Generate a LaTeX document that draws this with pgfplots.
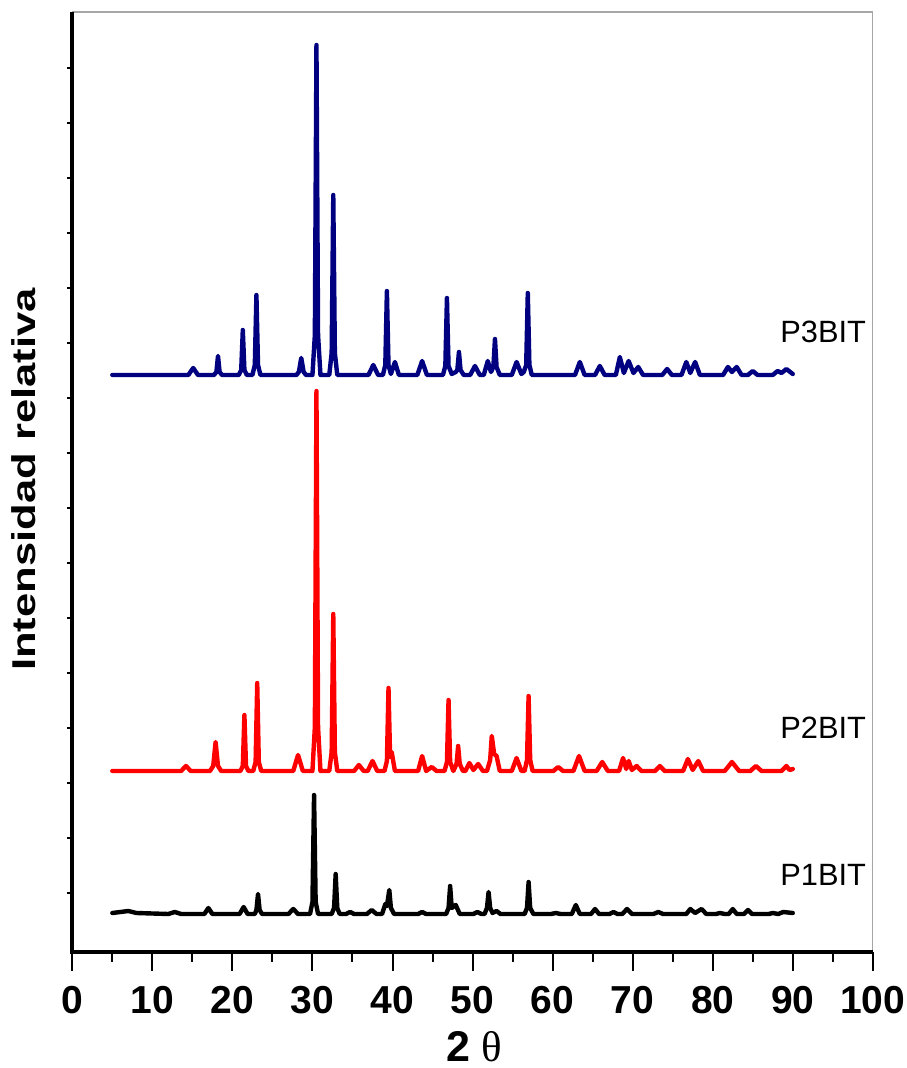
\documentclass[border=0pt]{standalone}
\usepackage{fontspec}
\setmainfont{Liberation Sans}
\newfontfamily\thetafont{Liberation Serif}
\usepackage{graphicx}
\usepackage{pgfplots}
\pgfplotsset{compat=1.18}
\definecolor{navy}{RGB}{0,0,128}
\definecolor{xred}{RGB}{255,0,0}

\begin{document}
\begin{tikzpicture}
\useasboundingbox (-36.15pt,-58pt) rectangle (416.85pt,476pt);
\begin{axis}[
  at={(0,0)}, anchor=south west,
  scale only axis, width=400.25pt, height=470pt,
  xmin=0, xmax=100, ymin=0, ymax=940,
  xtick={0,10,...,100}, minor xtick={5,15,...,95},
  ytick=\empty,
  tick pos=left, tick align=outside,
  major tick length=9.5pt, minor tick length=5pt,
  every tick/.style={black, line width=1pt},
  axis line style={draw=gray!70, line width=0.6pt},
  xticklabel style={font=\fontsize{19.5}{20}\selectfont\bfseries,
    inner sep=0pt, anchor=north, yshift=-7.5pt},
  /pgf/number format/assume math mode=true,
  every axis plot/.append style={line width=2.2pt, line join=round, line cap=round},
]
% P1BIT
\addplot[black] coordinates {
(5,39) (6,40) (7,41) (8,39) (12,38) (12.8,40) (13.6,38)
(16.5,38) (17.0,44) (17.5,38)
(20.9,38) (21.4,45) (21.9,38)
(22.8,38) (23.0,42) (23.2,58) (23.4,42) (23.7,38)
(27.0,38) (27.6,43) (28.2,38)
(29.7,38) (30.0,50) (30.2,157) (30.4,50) (30.7,38)
(32.4,38) (32.7,44) (32.9,78) (33.1,44) (33.4,38)
(34.2,38) (34.7,40) (35.2,38)
(36.8,38) (37.4,42) (38.0,38)
(38.7,38) (39.1,48) (39.3,46) (39.6,62) (39.8,44) (40.2,38)
(43.2,38) (43.7,40) (44.2,38)
(46.7,38) (47.0,44) (47.2,66) (47.4,44) (47.9,47) (48.4,38)
(50.1,38) (50.6,40) (51.1,38)
(51.5,38) (51.8,44) (52.0,60) (52.2,44) (52.5,39) (53.0,41) (53.5,38)
(56.5,38) (56.8,44) (57.0,70) (57.2,44) (57.6,38)
(59.8,38) (60.4,39) (61.0,38)
(62.4,38) (62.9,47) (63.4,38)
(64.8,38) (65.3,43) (65.8,38)
(67.1,38) (67.6,40) (68.1,38)
(68.7,38) (69.3,43) (69.9,38)
(72.6,38) (73.2,40) (73.8,38)
(76.7,38) (77.2,43) (77.8,39) (78.6,43) (79.2,38)
(80.4,38) (80.9,39) (81.5,38)
(82.0,38) (82.5,43) (83.0,38)
(83.9,38) (84.4,42) (84.9,38)
(87.0,38) (87.5,39) (88.2,38) (88.8,40) (90,39)
};
% P2BIT
\addplot[xred] coordinates {
(5,181) (13.6,181) (14.2,186) (14.8,181)
(17.2,181) (17.6,186) (17.9,210) (18.2,186) (18.6,181)
(21.0,181) (21.3,186) (21.5,237) (21.7,186) (22.0,181)
(22.6,181) (22.9,190) (23.1,269) (23.3,190) (23.6,181)
(27.6,181) (28.2,197) (28.8,181)
(30.0,181) (30.3,225) (30.5,561) (30.7,225) (31.0,181)
(32.1,181) (32.4,200) (32.6,338) (32.8,200) (33.1,181)
(35.2,181) (35.8,187) (36.4,181)
(36.9,181) (37.5,191) (38.1,181)
(39.0,181) (39.3,191) (39.5,264) (39.7,195) (39.9,200) (40.3,181)
(43.2,181) (43.7,196) (44.2,181) (44.9,185) (45.5,181)
(46.5,181) (46.8,190) (47.0,252) (47.2,190) (47.6,181) (48.0,188) (48.2,206) (48.4,188) (48.8,181)
(49.1,181) (49.6,189) (50.1,182) (50.7,188) (51.3,181)
(51.8,181) (52.2,192) (52.4,216) (52.7,198) (53.0,196) (53.4,181)
(54.9,181) (55.5,194) (56.1,181) (56.5,181) (56.8,192) (57.0,256) (57.2,192) (57.5,181)
(60.1,181) (60.7,185) (61.3,181)
(62.6,181) (63.3,196) (64.0,181)
(65.5,181) (66.2,190) (66.9,181)
(68.3,181) (68.8,194) (69.2,183) (69.5,191) (69.9,182) (70.5,186) (71.1,181)
(72.8,181) (73.4,186) (74.0,181)
(76.3,181) (76.9,193) (77.5,182) (78.2,191) (78.8,181)
(81.5,181) (82.4,190) (83.3,181)
(84.7,181) (85.4,186) (86.1,181)
(88.6,181) (89.2,186) (89.6,182) (90,183)
};
% P3BIT
\addplot[navy] coordinates {
(5,577) (14.5,577) (15.1,584) (15.7,577)
(17.7,577) (18.0,580) (18.2,596) (18.4,580) (18.7,577)
(20.8,577) (21.1,582) (21.3,622) (21.5,582) (21.8,577)
(22.5,577) (22.8,587) (23.0,657) (23.2,587) (23.5,577)
(28.0,577) (28.3,580) (28.6,594) (28.9,580) (29.2,577)
(30.0,577) (30.3,617) (30.5,907) (30.7,617) (31.0,577)
(32.1,577) (32.4,599) (32.6,757) (32.8,599) (33.1,577)
(37.0,577) (37.6,587) (38.2,577)
(38.8,577) (39.1,587) (39.3,661) (39.5,587) (39.8,578) (40.3,590) (40.8,577)
(43.1,577) (43.7,591) (44.3,577)
(46.3,577) (46.6,586) (46.8,654) (47.0,586) (47.4,578) (47.9,580) (48.1,582) (48.3,600) (48.5,582) (48.9,577)
(49.7,577) (50.3,586) (50.9,577)
(51.4,577) (51.9,591) (52.3,580) (52.6,585) (52.8,613) (53.0,585) (53.4,577)
(54.9,577) (55.5,590) (56.1,578) (56.4,580) (56.7,587) (56.9,659) (57.1,587) (57.4,577)
(62.8,577) (63.4,590) (64.0,577)
(65.3,577) (65.9,586) (66.5,577)
(67.9,577) (68.4,595) (68.9,579) (69.5,591) (70.1,579) (70.7,585) (71.3,577)
(73.7,577) (74.3,583) (74.9,577)
(76.1,577) (76.7,590) (77.2,579) (77.8,590) (78.4,577)
(81.3,577) (81.9,585) (82.4,580) (83.0,585) (83.6,577)
(84.4,577) (85.0,581) (85.6,577)
(87.5,577) (88.1,581) (88.6,579) (89.2,583) (90,578)
};
\end{axis}
% heavy left and bottom spines
\draw[line width=2pt] (0,470pt) -- (0,0) -- (400.25pt,0);
\foreach \k in {0,...,15}
  \draw[line width=0.8pt] (0,{(59+55*\k)*0.5pt}) -- ++(-2.5pt,0);
\node[rotate=90, anchor=base, font=\fontsize{16.5}{17}\selectfont\bfseries]
  at (-18.65pt,236.25pt) {\scalebox{1.32}[1]{Intensidad relativa}};
\node[anchor=base, font=\fontsize{21.5}{23}\selectfont\bfseries]
  at (201.1pt,-54.5pt) {2\hspace{0.25em}{\thetafont\mdseries θ}};
\node[anchor=base west, font=\fontsize{15.4}{16}\selectfont] at (350.5pt,304.5pt) {P3BIT};
\node[anchor=base west, font=\fontsize{15.4}{16}\selectfont] at (350.5pt,106.5pt) {P2BIT};
\node[anchor=base west, font=\fontsize{15.4}{16}\selectfont] at (350.5pt,33pt) {P1BIT};
\end{tikzpicture}
\end{document}
